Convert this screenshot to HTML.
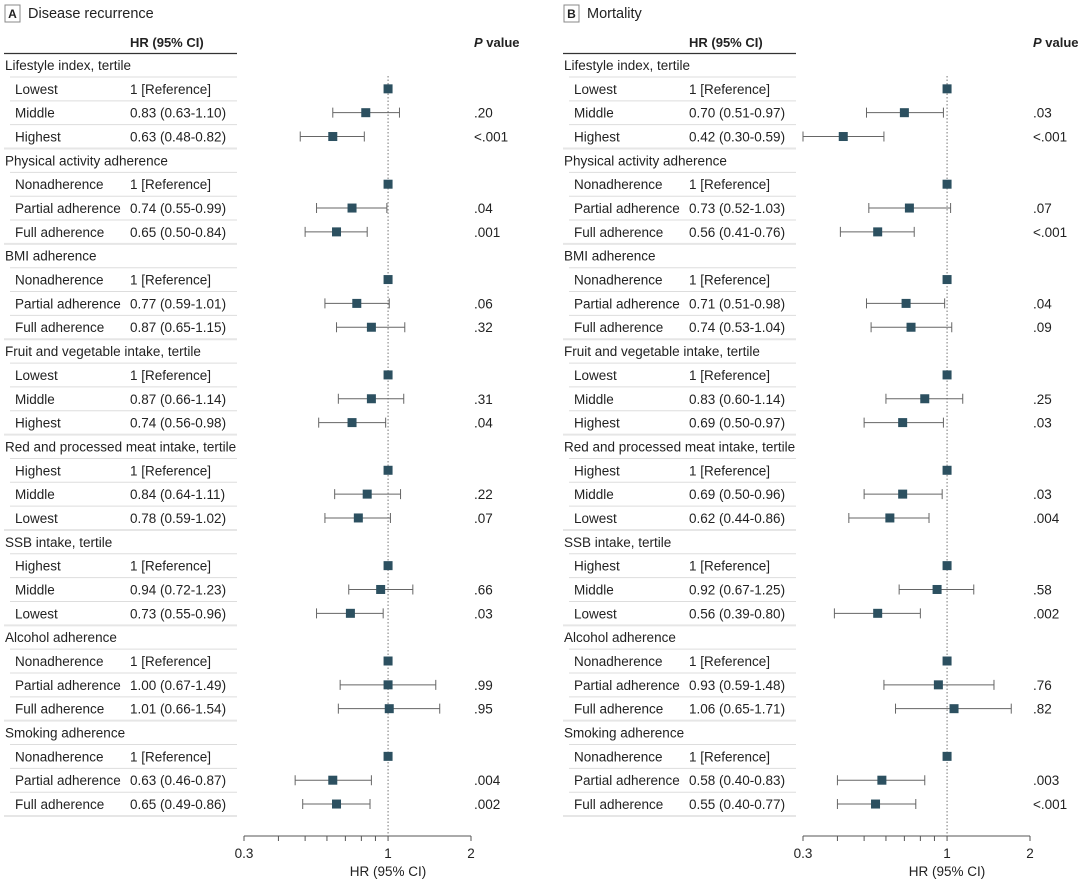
<!DOCTYPE html>
<html><head><meta charset="utf-8"><style>
body{margin:0;background:#fff}
svg{display:block;font-family:"Liberation Sans","DejaVu Sans",sans-serif}
</style></head><body>
<svg id="c" width="1080" height="883" viewBox="0 0 1080 883"></svg>
<script>
const groups = ["Lifestyle index, tertile","Physical activity adherence","BMI adherence","Fruit and vegetable intake, tertile","Red and processed meat intake, tertile","SSB intake, tertile","Alcohol adherence","Smoking adherence"];
const subLabels = [["Lowest","Middle","Highest"],["Nonadherence","Partial adherence","Full adherence"],["Nonadherence","Partial adherence","Full adherence"],["Lowest","Middle","Highest"],["Highest","Middle","Lowest"],["Highest","Middle","Lowest"],["Nonadherence","Partial adherence","Full adherence"],["Nonadherence","Partial adherence","Full adherence"]];
const recurHR = [[1,0.83,0.63],[1,0.74,0.65],[1,0.77,0.87],[1,0.87,0.74],[1,0.84,0.78],[1,0.94,0.73],[1,1.00,1.01],[1,0.63,0.65]];
const recurLo = [[null,0.63,0.48],[null,0.55,0.50],[null,0.59,0.65],[null,0.66,0.56],[null,0.64,0.59],[null,0.72,0.55],[null,0.67,0.66],[null,0.46,0.49]];
const recurHi = [[null,1.10,0.82],[null,0.99,0.84],[null,1.01,1.15],[null,1.14,0.98],[null,1.11,1.02],[null,1.23,0.96],[null,1.49,1.54],[null,0.87,0.86]];
const recurP = [["",".20","<.001"],["",".04",".001"],["",".06",".32"],["",".31",".04"],["",".22",".07"],["",".66",".03"],["",".99",".95"],["",".004",".002"]];
const mortHR = [[1,0.70,0.42],[1,0.73,0.56],[1,0.71,0.74],[1,0.83,0.69],[1,0.69,0.62],[1,0.92,0.56],[1,0.93,1.06],[1,0.58,0.55]];
const mortLo = [[null,0.51,0.30],[null,0.52,0.41],[null,0.51,0.53],[null,0.60,0.50],[null,0.50,0.44],[null,0.67,0.39],[null,0.59,0.65],[null,0.40,0.40]];
const mortHi = [[null,0.97,0.59],[null,1.03,0.76],[null,0.98,1.04],[null,1.14,0.97],[null,0.96,0.86],[null,1.25,0.80],[null,1.48,1.71],[null,0.83,0.77]];
const mortP = [["",".03","<.001"],["",".07","<.001"],["",".04",".09"],["",".25",".03"],["",".03",".004"],["",".58",".002"],["",".76",".82"],["",".003","<.001"]];
const tickVals = [0.3,0.4,0.5,0.6,0.7,0.8,0.9,1,2];
const tickLabels = ["0.3","","","","","","","1","2"];

const NS="http://www.w3.org/2000/svg", svg=document.getElementById('c');
function mk(tag,attrs,parent){const e=document.createElementNS(NS,tag);for(const k in attrs)e.setAttribute(k,attrs[k]);(parent||svg).appendChild(e);return e;}
function txt(x,y,s,attrs,parent){const t=mk('text',Object.assign({x:x,y:y,'font-size':13.5,fill:'#222'},attrs||{}),parent);t.textContent=s;return t;}
function fmt(v){return v.toFixed(2);}
const rowY=i=>65+i*23.84;

function panel(off,letter,title,HR,LO,HI,P,name){
  const g=mk('g',{});
  
  
  const x0=off+244,x1=off+471;
  const xs=v=>x0+(Math.log(v)-Math.log(0.3))/(Math.log(2)-Math.log(0.3))*(x1-x0);
  const box=mk('rect',{x:off+5,y:5,width:15,height:17,fill:'none',stroke:'#888','stroke-width':1},g);
  
  const lt=txt(off+12.5,18,letter,{'text-anchor':'middle','font-size':12,'font-weight':'bold'},g);
  
  const tt=txt(off+28,18,title,{'font-size':14.5},g);
  
  const h1=txt(off+130,47,'HR (95% CI)',{'font-weight':'bold','font-size':13},g);
  
  const h2=txt(off+474,47,'',{'font-weight':'bold','font-size':13},g);
  h2.innerHTML='<tspan font-style="italic">P</tspan> value';
  
  mk('line',{x1:off+4,x2:off+237,y1:53.5,y2:53.5,stroke:'#333','stroke-width':1.2},g);
  const rl=mk('line',{x1:xs(1),x2:xs(1),y1:76,y2:836,stroke:'#777','stroke-width':1,'stroke-dasharray':'1.5,2'},g);
  
  let r=0;
  groups.forEach((gn,gi)=>{
    const y=rowY(r);
    const gl=txt(off+5,y+5,gn,{},g);
    
    mk('line',{x1:off+10,x2:off+237,y1:y+12,y2:y+12,stroke:'#ddd','stroke-width':1},g);
    r++;
    for(let k=0;k<3;k++){
      const yy=rowY(r);
      const sl=txt(off+15,yy+5,subLabels[gi][k],{},g);
      
      const hv=HR[gi][k];
      const ht=txt(off+130,yy+5,LO[gi][k]===null?'1 [Reference]':fmt(hv)+' ('+fmt(LO[gi][k])+'-'+fmt(HI[gi][k])+')',{},g);
      
      if(P[gi][k]){const pt=txt(off+474,yy+5,P[gi][k],{},g);}
      mk('line',{x1:off+(k==2?4:10),x2:off+237,y1:yy+12,y2:yy+12,stroke:k==2?'#e6e6e6':'#ddd','stroke-width':k==2?2:1},g);
      if(LO[gi][k]!==null){
        const a=xs(LO[gi][k]),b=xs(HI[gi][k]);
        const w=mk('path',{d:`M${a},${yy}H${b}M${a},${yy-5}V${yy+5}M${b},${yy-5}V${yy+5}`,stroke:'#666','stroke-width':1,fill:'none'},g);
        
      }
      const sq=mk('rect',{x:xs(hv)-4.5,y:yy-4.5,width:9,height:9,fill:'#2c5060'},g);
      
      r++;
    }
  });
  const ax=mk('line',{x1:x0,x2:x1,y1:836,y2:836,stroke:'#555','stroke-width':1},g);
  
  tickVals.forEach((v,i)=>{
    mk('line',{x1:xs(v),x2:xs(v),y1:836,y2:841,stroke:'#555','stroke-width':1},g);
    if(tickLabels[i]){const tl=txt(xs(v),858,tickLabels[i],{'text-anchor':'middle'},g);}
  });
  const at=txt(xs(1),876,'HR (95% CI)',{'text-anchor':'middle'},g);
  
}
panel(0,'A','Disease recurrence',recurHR,recurLo,recurHi,recurP,'panel-disease-recurrence');
panel(559,'B','Mortality',mortHR,mortLo,mortHi,mortP,'panel-mortality');
</script>
</body></html>
